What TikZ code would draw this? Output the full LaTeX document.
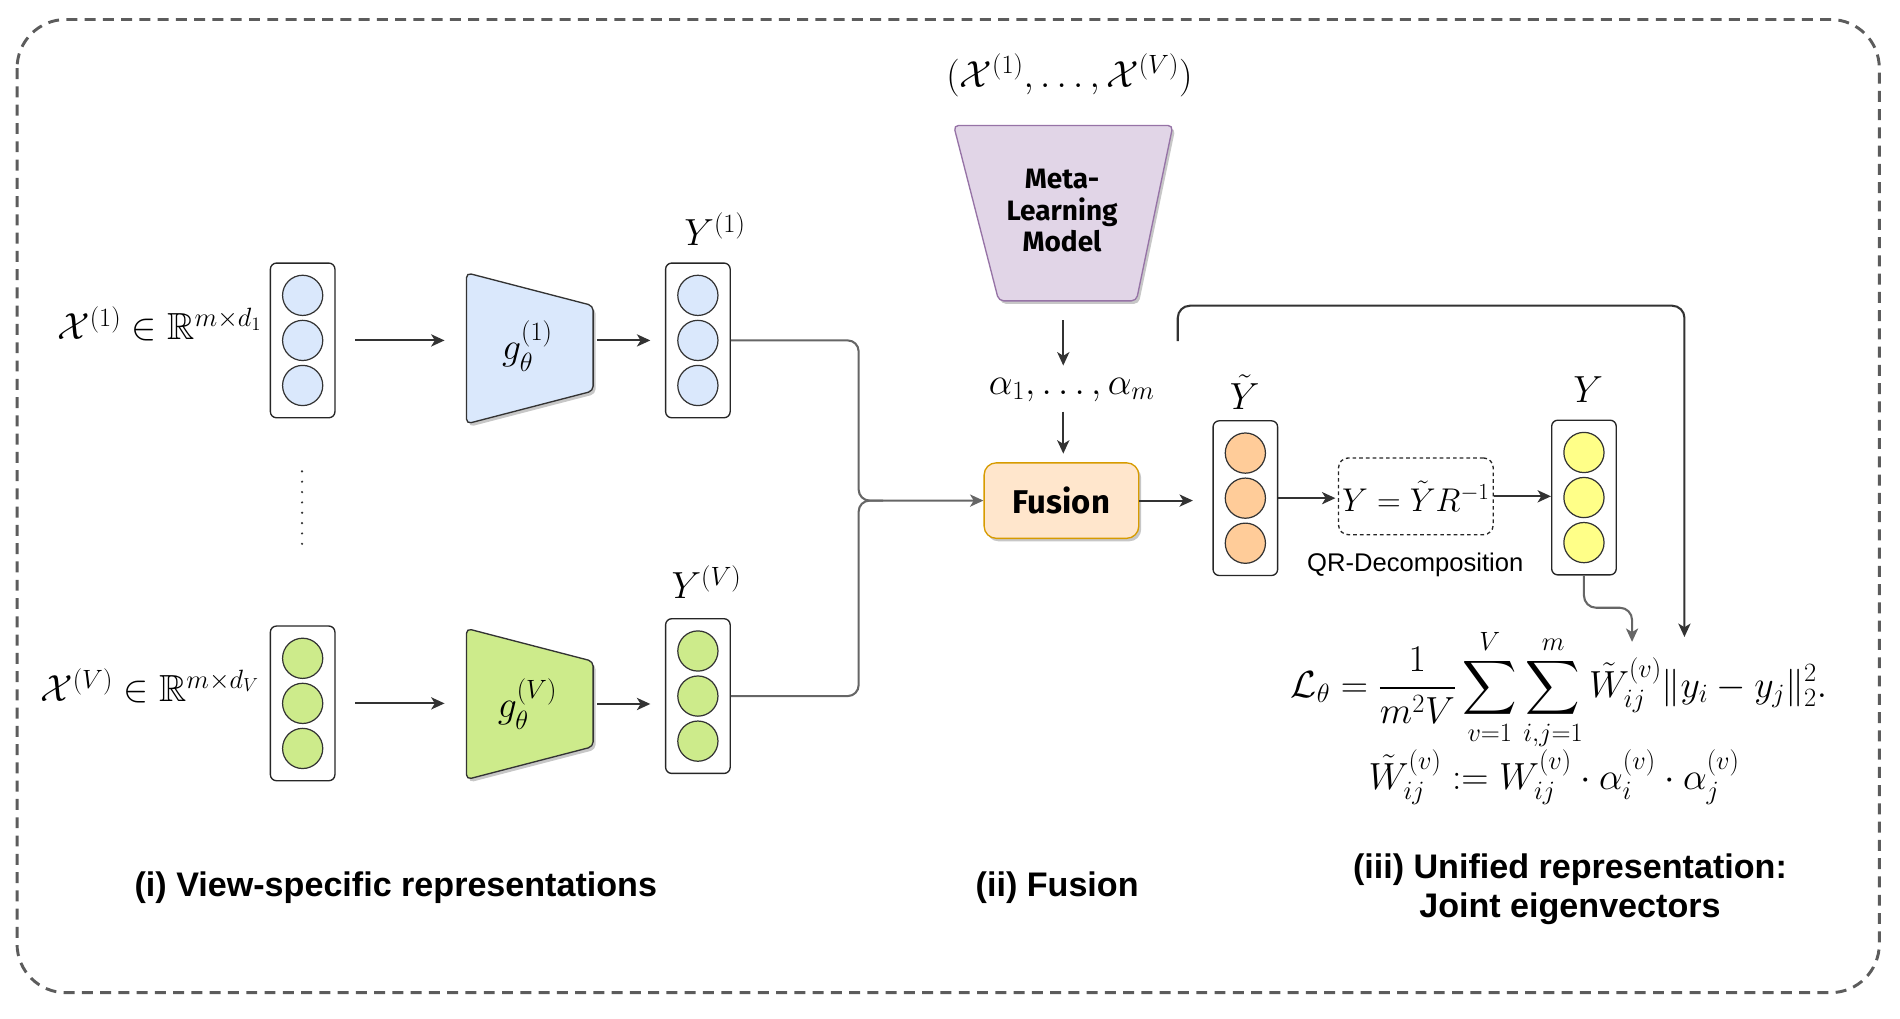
\RequirePackage{fix-cm}
\documentclass[tikz,border=0pt]{standalone}
\usepackage{amsmath,amssymb}
\usepackage{fontspec}
\newfontfamily\labfont{Liberation Sans}
\newfontfamily\boxfont{Fira Sans}
\usetikzlibrary{arrows.meta,shadows,calc}
\definecolor{cblue}{HTML}{DAE8FC}
\definecolor{cgreen}{HTML}{CDEB8B}
\definecolor{corange}{HTML}{FFCC99}
\definecolor{cyellow}{HTML}{FFFF88}
\definecolor{cpurple}{HTML}{E1D5E7}
\definecolor{cpurpled}{HTML}{9673A6}
\definecolor{cfusion}{HTML}{FFE6CC}
\definecolor{cfusiond}{HTML}{D79B00}
\definecolor{cdark}{HTML}{333333}
\definecolor{cgray}{HTML}{666666}
\definecolor{cframe}{HTML}{5C5C5C}
\newcommand\mymath{\fontsize{31}{37}\selectfont}
\newcommand\vecbox[3]{%
  \node[vbox] (#1) at (#2) {};
  \foreach \i/\d in {1/-37,2/0,3/37}{\node[dotc,fill=#3] (#1c\i) at ($(#1.center)+(0,\d)$) {};}
}
\begin{document}
\begin{tikzpicture}[x=1pt,y=-1pt,
  vbox/.style={draw=black!85, line width=1.1pt, rounded corners=5pt, fill=white, minimum width=53pt, minimum height=127pt, inner sep=0pt},
  dotc/.style={circle, draw=black!80, line width=1pt, minimum size=33pt, inner sep=0pt},
  arr/.style={draw=cdark, line width=1.7pt, -{Stealth[length=11pt,width=10pt,inset=3pt]}},
  garr/.style={draw=cgray, line width=1.7pt, -{Stealth[length=11pt,width=10pt,inset=3pt]}},
  gline/.style={draw=cgray, line width=1.7pt},
  mlab/.style={font=\mymath, inner sep=2pt},
  shad/.style={drop shadow={shadow xshift=2pt,shadow yshift=-2.5pt,opacity=0.22,fill=black}},
  trap/.style={draw=cdark, line width=1.1pt, rounded corners=4pt, shad},
  ghost/.style={inner sep=0pt, outer sep=0pt},
  sect/.style={font=\labfont\bfseries\fontsize{28}{32}\selectfont, align=center},
]
\useasboundingbox (0,0) rectangle (1560,836);
% outer frame
\draw[cframe, line width=2.4pt, dash pattern=on 9pt off 6pt, rounded corners=40pt] (14,16) rectangle (1543,815);

% ---------- view-specific branch ----------
\vecbox{in1}{248.5,279.5}{cblue}
\vecbox{in2}{248.5,577.5}{cgreen}
\vecbox{y1}{573,279.5}{cblue}
\vecbox{yV}{573,571.5}{cgreen}

\node[mlab] (x1) at (131,266) {$\mathcal{X}^{(1)} \in \mathbb{R}^{m\times d_1}$};
\node[mlab] (xV) at (123,563) {$\mathcal{X}^{(V)} \in \mathbb{R}^{m\times d_V}$};

\node[ghost, minimum width=104pt, minimum height=124pt] (g1) at (435,286) {};
\draw[trap, fill=cblue] (g1.north west) -- ($(g1.north east)+(0,27)$) -- ($(g1.south east)+(0,-27)$) -- (g1.south west) -- cycle;
\node[mlab] (g1t) at (433,284) {$g_\theta^{(1)}$};

\node[ghost, minimum width=104pt, minimum height=124pt] (gV) at (435,578) {};
\draw[trap, fill=cgreen] (gV.north west) -- ($(gV.north east)+(0,27)$) -- ($(gV.south east)+(0,-27)$) -- (gV.south west) -- cycle;
\node[mlab] (gVt) at (433,578) {$g_\theta^{(V)}$};

\node[mlab] (y1t) at (587,188) {$Y^{(1)}$};
\node[mlab] (yVt) at (580,478) {$Y^{(V)}$};

\coordinate (dtop) at (248,387);
\coordinate (dbot) at (248,450);
\draw[cdark, line width=2pt, line cap=round, dash pattern=on 0pt off 8.5pt] (dtop) -- (dbot);

\draw[arr, shorten <=16pt, shorten >=18pt] (in1.east) -- (in1.east -| g1.west);
\draw[arr, shorten <=16pt, shorten >=18pt] (in2.east) -- (in2.east -| gV.west);
\draw[arr, shorten <=3pt, shorten >=12pt] (g1.east |- y1.west) -- (y1.west);
\draw[arr, shorten <=3pt, shorten >=12pt] (gV.east) -- (gV.east -| yV.west);

% ---------- fusion ----------
\node[mlab] (xs) at (878,62) {$(\mathcal{X}^{(1)},\ldots,\mathcal{X}^{(V)})$};
\node[ghost, minimum width=180pt, minimum height=144pt] (meta) at (873,175) {};
\draw[draw=cpurpled, line width=1.1pt, fill=cpurple, rounded corners=4pt, shad] (meta.north west) -- (meta.north east) -- ($(meta.south east)+(-30,0)$) -- ($(meta.south west)+(37,0)$) -- cycle;
\node[font=\boxfont\bfseries\fontsize{23}{26}\selectfont, align=center] (metat) at (872,173) {Meta-\\Learning\\Model};

\node[mlab] (alpha) at (880,320) {$\alpha_1,\ldots,\alpha_m$};
\node[draw=cfusiond, line width=1.1pt, fill=cfusion, rounded corners=10pt, minimum width=127pt, minimum height=62pt, font=\boxfont\bfseries\fontsize{27}{30}\selectfont, shad] (fusion) at (871.5,411) {Fusion};

\draw[arr, shorten <=16pt, shorten >=8pt] (meta.south) -- (meta.south |- alpha.north);
\draw[arr, shorten <=6pt, shorten >=7pt] (alpha.south -| meta.south) -- (meta.south |- fusion.north);

\coordinate (jn) at (705,411);
\draw[gline, rounded corners=9pt] (yV.east) -| (jn) -- ++(20,0);
\draw[garr, rounded corners=9pt] (y1.east) -| (jn) -- (fusion.west);

% ---------- unified ----------
\vecbox{yt}{1022.5,409}{corange}
\vecbox{yy}{1300.5,408.5}{cyellow}
\node[mlab] (ytt) at (1022,322) {$\tilde{Y}$};
\node[mlab] (yyt) at (1304,320) {$Y$};

\node[draw=black!85, line width=1.1pt, dash pattern=on 3pt off 2.5pt, rounded corners=8pt, minimum width=127pt, minimum height=63pt, inner sep=1pt, font=\fontsize{27}{32}\selectfont] (qr) at (1162.5,407.5) {$Y=\tilde{Y}R^{-1}$};
\node[font=\labfont\fontsize{21}{24}\selectfont] (qrt) at (1162,464) {QR-Decomposition};

\draw[arr, shorten >=16pt] (fusion.east) -- (fusion.east -| yt.west);
\draw[arr, shorten >=2pt] (yt.east) -- (yt.east -| qr.west);
\draw[arr, shorten >=0pt] (qr.east) -- (qr.east -| yy.west);

\node[mlab] (loss1) at (1280,566) {$\displaystyle \mathcal{L}_\theta = \frac{1}{m^2V}\sum_{v=1}^{V}\sum_{i,j=1}^{m}\tilde{W}_{ij}^{(v)}\|y_i-y_j\|_2^2.$};
\node[mlab] (loss2) at (1276,638) {$\tilde{W}_{ij}^{(v)} := W_{ij}^{(v)}\cdot\alpha_i^{(v)}\cdot\alpha_j^{(v)}$};

\coordinate (lossA) at (1340,527);
\coordinate (lossB) at (1383,523);
\coordinate (fbstart) at (967,280);
\coordinate (fbtop) at (1383,251);
\draw[garr, rounded corners=10pt] (yy.south) |- ($(lossA)+(0,-28)$) -- (lossA);
\draw[arr, rounded corners=10pt] (fbstart) |- (fbtop) -- (lossB);

% ---------- section labels ----------
\node[sect] (s1) at (325,729) {(i) View-specific representations};
\node[sect] (s2) at (868,729) {(ii) Fusion};
\node[sect] (s3) at (1289,730) {(iii) Unified representation:\\Joint eigenvectors};
\end{tikzpicture}
\end{document}
